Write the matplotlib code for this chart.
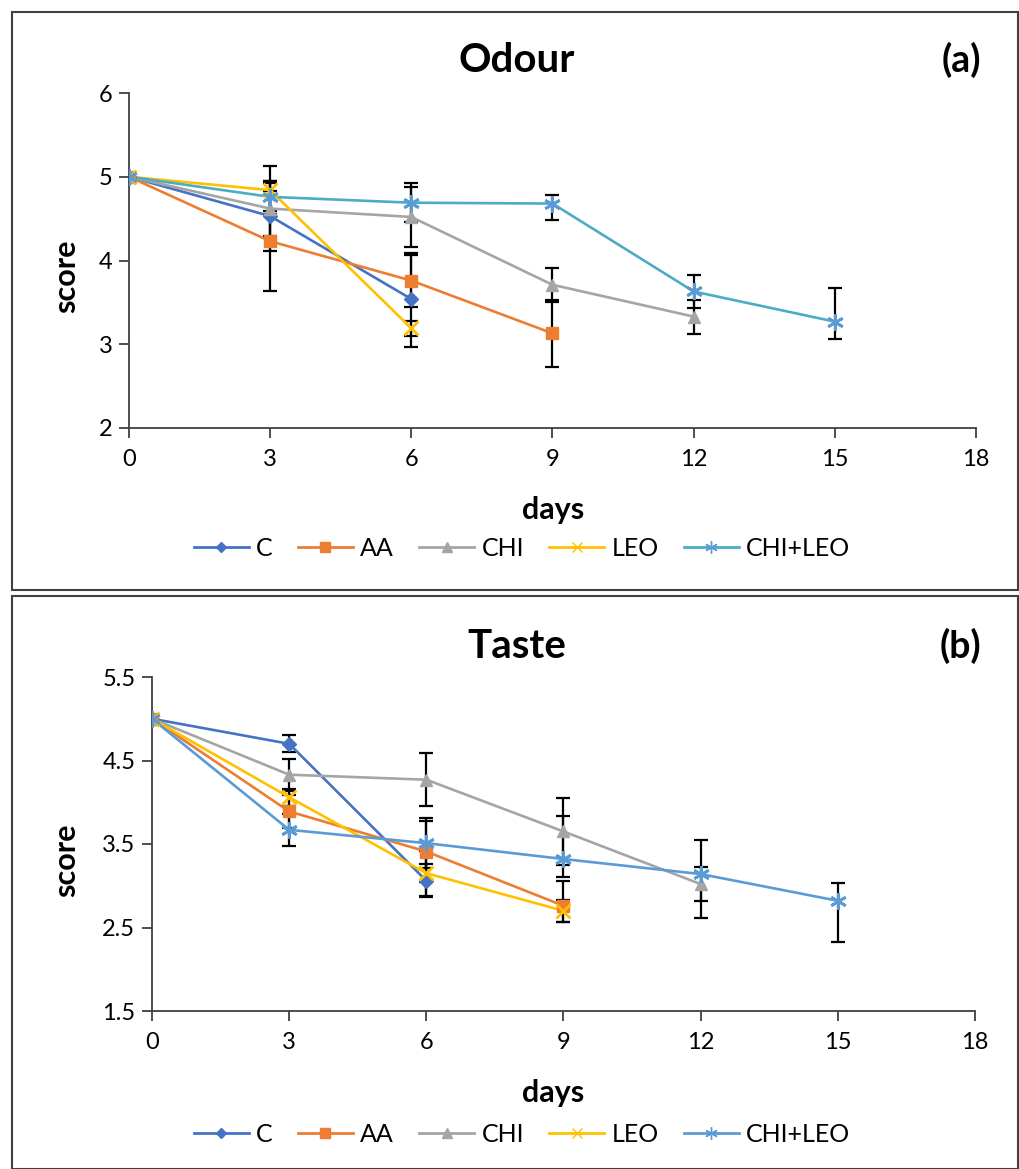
import numpy as np
import matplotlib.pyplot as plt
from matplotlib.patches import Rectangle
from matplotlib.lines import Line2D

plt.rcParams['font.family'] = ['Lato', 'DejaVu Sans']

names = ['C', 'AA', 'CHI', 'LEO', 'CHI+LEO']
days = [0, 3, 6, 9, 12, 15]

# Odour (a)
odour = [[5, 4.53, 3.54],
         [5, 4.23, 3.76, 3.13],
         [5, 4.62, 4.52, 3.71, 3.33],
         [5, 4.84, 3.19],
         [5, 4.76, 4.69, 4.68, 3.63, 3.27]]
odour_lo = [[0, 0.42, 0.57],
            [0, 0.60, 0.31, 0.40],
            [0, 0.33, 0.36, 0.20, 0.21],
            [0, 0.29, 0.09],
            [0, 0.17, 0.23, 0.20, 0.20, 0.21]]
odour_hi = [[0, 0.42, 0.55],
            [0, 0.60, 0.31, 0.40],
            [0, 0.33, 0.36, 0.20, 0.20],
            [0, 0.29, 0.09],
            [0, 0.17, 0.23, 0.10, 0.20, 0.40]]

# Taste (b)
taste = [[5, 4.70, 3.06],
         [5, 3.89, 3.41, 2.76],
         [5, 4.33, 4.27, 3.65, 3.02],
         [5, 4.06, 3.15, 2.70],
         [5, 3.67, 3.51, 3.32, 3.14, 2.82]]
taste_lo = [[0, 0.10, 0.20],
            [0, 0.20, 0.37, 0.19],
            [0, 0.19, 0.32, 0.40, 0.20],
            [0, 0.10, 0.27, 0.13],
            [0, 0.19, 0.30, 0.22, 0.53, 0.49]]
taste_hi = [[0, 0.10, 0.20],
            [0, 0.20, 0.37, 0.30],
            [0, 0.19, 0.32, 0.40, 0.20],
            [0, 0.10, 0.27, 0.13],
            [0, 0.19, 0.30, 0.51, 0.41, 0.21]]

colors = ['#4472C4', '#ED7D31', '#A5A5A5', '#FFC000', '#5B9BD5']
markers = ['D', 's', '^', 'x', (6, 2, 0)]
msizes = [7, 9, 9, 10, 12]
line_last = {'a': '#4BACC6', 'b': '#5B9BD5'}

W, H = 1020, 1169
fig = plt.figure(figsize=(W / 100, H / 100), dpi=100)


def fx(px):
    return px / W


def fy(py):
    return 1 - py / H


# panel borders
fig.patches.append(Rectangle((fx(12), fy(590)), fx(1006), 578 / H,
                             transform=fig.transFigure, fill=False,
                             edgecolor='#404040', lw=1.5))
fig.patches.append(Rectangle((fx(12), 0.0), fx(1006), fy(596),
                             transform=fig.transFigure, fill=False,
                             edgecolor='#404040', lw=1.5))


def panel(box, vals, lo, hi, ylim, yticks, title, tag, key, ty, dy, ly):
    l, t, r, b = box
    ax = fig.add_axes([fx(l), fy(b), fx(r - l), (b - t) / H])
    for i, nm in enumerate(names):
        x = days[:len(vals[i])]
        ax.errorbar(x, vals[i], yerr=[lo[i], hi[i]], fmt='none', ecolor='black',
                    elinewidth=1.6, capsize=4.7, capthick=1.6, zorder=2)
    for i, nm in enumerate(names):
        x = days[:len(vals[i])]
        lc = line_last[key] if nm == 'CHI+LEO' else colors[i]
        ax.plot(x, vals[i], color=lc, lw=1.9, zorder=3)
        ax.plot(x, vals[i], ls='none', marker=markers[i], ms=msizes[i],
                color=colors[i], mec=colors[i], mew=2 if i >= 3 else 1, zorder=4)
    ax.set_xlim(0, 18)
    ax.set_xticks(range(0, 19, 3))
    ax.set_ylim(*ylim)
    ax.set_yticks(yticks)
    ax.set_yticklabels(['%g' % v for v in yticks])
    for s in ['top', 'right']:
        ax.spines[s].set_visible(False)
    for s in ['left', 'bottom']:
        ax.spines[s].set_color('#404040')
        ax.spines[s].set_linewidth(1.3)
    ax.tick_params(labelsize=17, length=7, width=1.3, color='#404040', pad=5)
    ax.tick_params(axis='x', pad=8)

    fig.text(fx(517), fy(ty), title, fontsize=29, fontweight='bold',
             ha='center', va='center')
    fig.text(fx(981), fy(ty), tag, fontsize=27, fontweight='bold',
             ha='right', va='center')
    fig.text(fx(553), fy(dy), 'days', fontsize=22, fontweight='bold',
             ha='center', va='center')
    fig.text(fx(66), fy((t + b) / 2 + 16), 'score', fontsize=22,
             fontweight='bold', ha='center', va='center', rotation=90)

    handles = []
    for i, nm in enumerate(names):
        lc = line_last[key] if nm == 'CHI+LEO' else colors[i]
        handles.append(Line2D([], [], color=lc, lw=2, marker=markers[i],
                              ms=msizes[i] * 0.75, mfc=colors[i], mec=colors[i]))
    fig.legend(handles, names, loc='center', bbox_to_anchor=(fx(522), fy(ly)),
               ncol=5, frameon=False, fontsize=18, handlelength=2.2,
               columnspacing=1.0, handletextpad=0.3)
    return ax


panel((129, 93, 976, 428), odour, odour_lo, odour_hi,
      (2, 6), [2, 3, 4, 5, 6], 'Odour', '(a)', 'a', 60, 510, 548)
panel((152, 677, 975, 1011), taste, taste_lo, taste_hi,
      (1.5, 5.5), [1.5, 2.5, 3.5, 4.5, 5.5], 'Taste', '(b)', 'b', 646, 1093, 1134)

fig.savefig('out.png', dpi=100)
